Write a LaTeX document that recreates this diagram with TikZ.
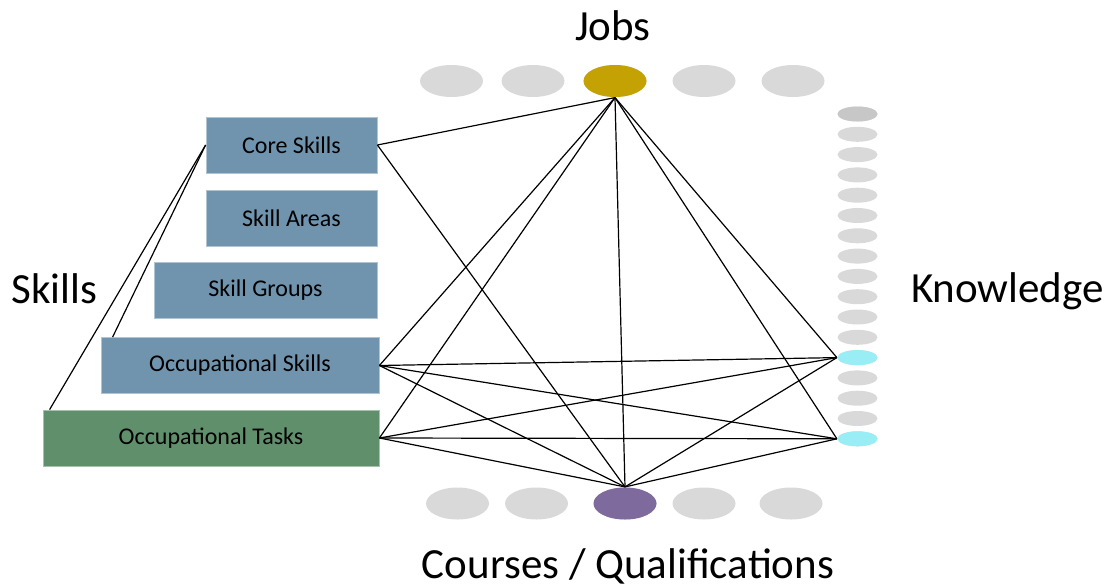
\documentclass[tikz,border=0pt]{standalone}
\usepackage{fontspec}
\setmainfont{Carlito}
\usetikzlibrary{shapes.geometric}
\definecolor{boxblue}{HTML}{7094AE}
\definecolor{boxgreen}{HTML}{5F8F6B}
\definecolor{jobgold}{HTML}{C4A204}
\definecolor{coursepurple}{HTML}{7E6A9C}
\definecolor{knowcyan}{HTML}{98EEF4}
\definecolor{dotgray}{HTML}{D9D9D9}
\begin{document}
\begin{tikzpicture}[x=1pt, y=-1pt, line width=1.2pt,
	skill box/.style={rectangle, fill=boxblue, draw=boxblue!55!white, line width=0.8pt, minimum height=56pt, inner sep=0pt, font=\fontsize{24}{28}\selectfont},
	dot/.style={ellipse, fill=dotgray, inner sep=0pt, minimum width=63pt, minimum height=32pt},
	know dot/.style={ellipse, fill=dotgray, inner sep=0pt, minimum width=40pt, minimum height=15pt},
	title/.style={anchor=base, font=\fontsize{43}{50}\selectfont}]
	\useasboundingbox (0,0) rectangle (1112,587);
	% skill boxes
	\node[skill box, minimum width=171pt] (core) at (291.5,145) {Core Skills};
	\node[skill box, minimum width=171pt] (areas) at (291.5,218) {Skill Areas};
	\node[skill box, minimum width=223pt] (groups) at (265.5,290) {Skill Groups};
	\node[skill box, minimum width=278pt] (occskills) at (240,365.5) {Occupational Skills};
	\node[skill box, minimum width=336pt, fill=boxgreen, draw=boxgreen!55!white] (occtasks) at (211,438) {Occupational Tasks};
	% jobs and courses
	\foreach \x [count=\i] in {451.5,533,615,704,793}
		\node[dot] (j\i) at (\x,81) {};
	\foreach \x [count=\i] in {457.5,536.5,625,704,791}
		\node[dot] (c\i) at (\x,503.5) {};
	\node[dot, fill=jobgold] at (j3) {};
	\node[dot, fill=coursepurple] at (c3) {};
	% knowledge
	\foreach \i in {0,...,16}
		\node[know dot] (k\i) at (857.5,114+\i*20.3) {};
	\node[know dot, fill=black!22] at (k0) {};
	\node[know dot, fill=knowcyan] at (k12) {};
	\node[know dot, fill=knowcyan] at (k16) {};
	% titles
	\node[title] (jobs) at (613,40) {Jobs};
	\node[title] (skills) at (54.5,303) {Skills};
	\node[title] (knowledge) at (1007.5,302) {Knowledge};
	\node[title] (courses) at (628,578) {Courses / Qualifications};
	% links
	\draw (core.west) -- ([xshift=12pt]occskills.north west);
	\draw (core.west) -- ([xshift=7pt]occtasks.north west);
	\draw (core.east) -- (j3.south);
	\draw (core.east) -- (c3.north);
	\foreach \b in {occskills, occtasks} {
		\draw (\b.east) -- (j3.south);
		\draw (\b.east) -- (c3.north);
		\draw (\b.east) -- (k12.west);
		\draw (\b.east) -- (k16.west);
	}
	\draw (j3.south) -- (c3.north);
	\draw (j3.south) -- (k12.west);
	\draw (j3.south) -- (k16.west);
	\draw (c3.north) -- (k12.west);
	\draw (c3.north) -- (k16.west);
\end{tikzpicture}
\end{document}
